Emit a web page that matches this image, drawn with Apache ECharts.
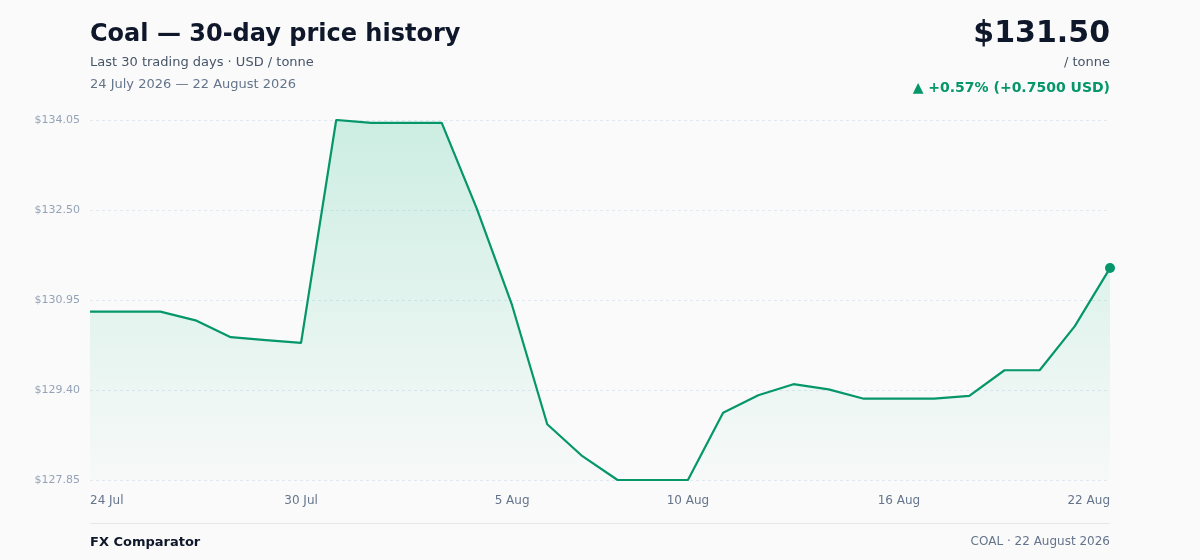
<!DOCTYPE html>
<html>
<head>
<meta charset="utf-8">
<title>Coal — 30-day price history</title>
<script src="https://cdn.jsdelivr.net/npm/echarts@6/dist/echarts.min.js"></script>
<style>
    html, body { margin: 0; padding: 0; background: #fafafa; }
    #chart { width: 1200px; height: 560px; }
</style>
</head>
<body>
<div id="chart"></div>
<script>
var DATES = ['24 Jul', '25 Jul', '26 Jul', '27 Jul', '28 Jul', '29 Jul', '30 Jul', '31 Jul',
    '1 Aug', '2 Aug', '3 Aug', '4 Aug', '5 Aug', '6 Aug', '7 Aug', '8 Aug', '9 Aug', '10 Aug',
    '11 Aug', '12 Aug', '13 Aug', '14 Aug', '15 Aug', '16 Aug', '17 Aug', '18 Aug', '19 Aug',
    '20 Aug', '21 Aug', '22 Aug'];

var PRICES = [130.75, 130.75, 130.75, 130.60, 130.31, 130.26, 130.21, 134.05,
    134.00, 134.00, 134.00, 132.52, 130.86, 128.81, 128.26, 127.85, 127.85, 127.85,
    129.01, 129.31, 129.50, 129.41, 129.25, 129.25, 129.25, 129.30, 129.74,
    129.74, 130.50, 131.50];

// which dates get a label on the x axis
var X_LABELS = ['24 Jul', '30 Jul', '5 Aug', '10 Aug', '16 Aug', '22 Aug'];

var Y_MIN = 127.85, Y_MAX = 134.05, Y_STEP = 1.55;

var GREEN = '#059669';
var FONT = 'DejaVu Sans';

var chart = echarts.init(document.getElementById('chart'), null, {renderer: 'canvas'});

var last = PRICES[PRICES.length - 1];
var first = PRICES[0];
var diff = last - first;
var pct = diff / first * 100;

function txt(text, pos, size, weight, color) {
    var t = {
        text: text,
        padding: 0,
        top: pos.top,
        textStyle: {fontFamily: FONT, fontSize: size, fontWeight: weight, color: color}
    };
    if (pos.left != null) t.left = pos.left;
    if (pos.right != null) t.right = pos.right;
    return t;
}

var option = {
    backgroundColor: '#fafafa',
    animation: false,
    textStyle: {fontFamily: FONT},
    title: [
        txt('Coal — 30-day price history', {left: 90, top: 23}, 24, 'bold', '#0f172a'),
        txt('Last 30 trading days · USD / tonne', {left: 90, top: 56}, 13, 'normal', '#475569'),
        txt('24 July 2026 — 22 August 2026', {left: 90, top: 78}, 13, 'normal', '#64748b'),
        txt('$' + last.toFixed(2), {right: 90, top: 19}, 30, 'bold', '#0f172a'),
        txt('/ tonne', {right: 90, top: 56}, 13, 'normal', '#475569'),
        txt('▲ +' + pct.toFixed(2) + '% (+' + diff.toFixed(4) + ' USD)', {right: 90, top: 81}, 14, 'bold', GREEN),
        txt('FX Comparator', {left: 90, top: 536}, 13, 'bold', '#0f172a'),
        txt('COAL · 22 August 2026', {right: 90, top: 536}, 12, 'normal', '#64748b')
    ],
    graphic: [{
        type: 'line',
        shape: {x1: 90, y1: 523.5, x2: 1110, y2: 523.5},
        style: {stroke: '#e5e7eb', lineWidth: 1}
    }],
    grid: {left: 90, right: 90, top: 120, bottom: 80, containLabel: false},
    xAxis: {
        type: 'category',
        data: DATES,
        boundaryGap: false,
        axisLine: {show: false},
        axisTick: {show: false},
        axisLabel: {
            color: '#64748b',
            fontFamily: FONT,
            fontSize: 12,
            margin: 15,
            alignMinLabel: 'left',
            alignMaxLabel: 'right',
            interval: function (idx, val) {
                return X_LABELS.indexOf(val) >= 0;
            }
        },
        splitLine: {show: false}
    },
    yAxis: {
        type: 'value',
        min: Y_MIN,
        max: Y_MAX,
        interval: Y_STEP,
        axisLine: {show: false},
        axisTick: {show: false},
        axisLabel: {
            color: '#94a3b8',
            fontFamily: FONT,
            fontSize: 11,
            margin: 10,
            formatter: function (v) { return '$' + v.toFixed(2); }
        },
        splitLine: {
            show: true,
            lineStyle: {color: '#e2e8f0', type: [3, 3], width: 1}
        }
    },
    series: [{
        type: 'line',
        data: PRICES,
        showSymbol: false,
        symbol: 'none',
        lineStyle: {color: GREEN, width: 2.2},
        itemStyle: {color: GREEN},
        areaStyle: {
            color: new echarts.graphic.LinearGradient(0, 0, 0, 1, [
                {offset: 0, color: 'rgba(16,185,129,0.28)'},
                {offset: 1, color: 'rgba(16,185,129,0.02)'}
            ])
        },
        markPoint: {
            symbol: 'circle',
            symbolSize: 10,
            label: {show: false},
            itemStyle: {color: GREEN},
            data: [{coord: [DATES.length - 1, last]}]
        }
    }]
};

chart.setOption(option);
</script>
</body>
</html>
